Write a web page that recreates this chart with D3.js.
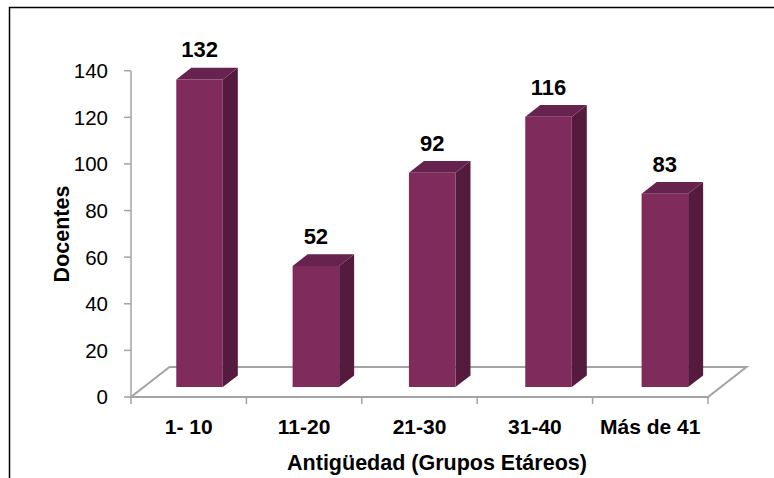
<!DOCTYPE html>
<html>
<head>
<meta charset="utf-8">
<script src="https://cdn.jsdelivr.net/npm/d3@7/dist/d3.min.js"></script>
<style>
  html, body { margin: 0; padding: 0; background: #fff; }
  svg { display: block; }
  text { font-family: "Liberation Sans", Arial, sans-serif; fill: #000; }
</style>
</head>
<body>
<svg id="chart" width="774" height="478"></svg>
<script>
const categories = ["1- 10", "11-20", "21-30", "31-40", "Más de 41"];
const values = [132, 52, 92, 116, 83];
const yTicks = [0, 20, 40, 60, 80, 100, 120, 140];
const xTitle = "Antigüedad (Grupos Etáreos)";
const yTitle = "Docentes";

const svg = d3.select("#chart");
const W = 774, H = 478;

// frame
svg.append("path").attr("d", `M9.5,${H} L9.5,7.5 L${W},7.5`)
  .attr("fill", "none").attr("stroke", "#000").attr("stroke-width", 1.5);

const x0 = 131, x1 = 708;
const y = d3.scaleLinear().domain([0, 140]).range([397, 70.7]);
const x = d3.scaleBand().domain(categories).range([x0, x1]).paddingInner(0.6).paddingOuter(0.28);
const xb = d3.scaleBand().domain(categories).range([x0, x1]);
const DX = 38.5, DY = -30;
const proj = (px, v, z) => [px + z * DX, y(v) + z * DY];
const zF = 0.33, zB = 0.72;

const gray = "#a3a3a3";
// floor
const floor = [proj(x0, 0, 0), proj(x1, 0, 0), proj(x1, 0, 1), proj(x0, 0, 1)];
svg.append("polygon").attr("points", floor.map(p => p.join(",")).join(" "))
  .attr("fill", "none").attr("stroke", gray).attr("stroke-width", 2);

// y axis
svg.append("line").attr("x1", x0).attr("x2", x0).attr("y1", y(0)).attr("y2", y(140))
  .attr("stroke", gray).attr("stroke-width", 1.5);
const yg = svg.append("g");
yTicks.forEach(t => {
  yg.append("line").attr("x1", x0 - 7).attr("x2", x0).attr("y1", y(t)).attr("y2", y(t))
    .attr("stroke", gray).attr("stroke-width", 1.5);
  yg.append("text").attr("x", 108).attr("y", y(t)).attr("dy", "0.36em")
    .attr("text-anchor", "end").attr("font-size", 20.5).text(t);
});

// x axis ticks
const bounds = categories.map(c => xb(c)).concat([x1]);
bounds.forEach(b => {
  svg.append("line").attr("x1", b).attr("x2", b).attr("y1", y(0)).attr("y2", y(0) + 7)
    .attr("stroke", gray).attr("stroke-width", 1.5);
});
categories.forEach(c => {
  svg.append("text").attr("x", xb(c) + xb.bandwidth() / 2).attr("y", 434)
    .attr("text-anchor", "middle").attr("font-size", 21).attr("font-weight", "bold").text(c);
});

// bars
const cFront = "#7f2b5c", cSide = "#541b3e", cTop = "#66234d";
categories.forEach((c, i) => {
  const v = values[i];
  const l = x(c), r = x(c) + x.bandwidth();
  const pts = (arr) => arr.map(p => p.join(",")).join(" ");
  svg.append("polygon").attr("points", pts([proj(r, 0, zF), proj(r, v, zF), proj(r, v, zB), proj(r, 0, zB)]))
    .attr("fill", cSide);
  svg.append("polygon").attr("points", pts([proj(l, v, zF), proj(r, v, zF), proj(r, v, zB), proj(l, v, zB)]))
    .attr("fill", cTop);
  svg.append("polygon").attr("points", pts([proj(l, 0, zF), proj(r, 0, zF), proj(r, v, zF), proj(l, v, zF)]))
    .attr("fill", cFront);
  const lp = proj((l + r) / 2, v, zF);
  svg.append("text").attr("x", lp[0]).attr("y", lp[1] - 22)
    .attr("text-anchor", "middle").attr("font-size", 22).attr("font-weight", "bold").text(v);
});

// titles
svg.append("text").attr("x", 437).attr("y", 470).attr("text-anchor", "middle")
  .attr("font-size", 21.5).attr("font-weight", "bold").text(xTitle);
svg.append("text").attr("transform", "translate(69,234) rotate(-90)").attr("text-anchor", "middle")
  .attr("font-size", 21.5).attr("font-weight", "bold").text(yTitle);
</script>
</body>
</html>
